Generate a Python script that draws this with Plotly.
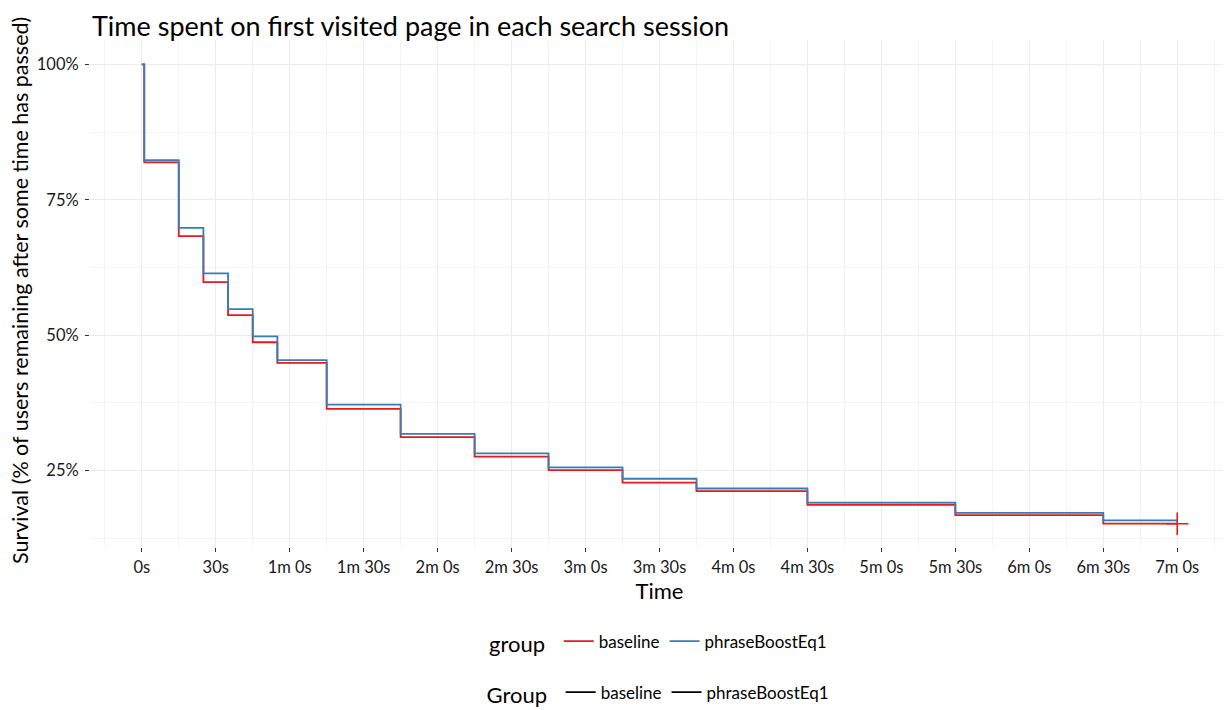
import plotly.graph_objects as go

# Data
time_s = [0, 1, 15, 25, 35, 45, 55, 75, 105, 135, 165, 195, 225, 270, 330, 390, 420]
baseline = [100, 81.9, 68.3, 59.8, 53.7, 48.7, 44.9, 36.4, 31.2, 27.6, 25.1, 22.8, 21.2, 18.7, 16.8, 15.2, 15.2]
phrase = [100, 82.3, 69.8, 61.4, 54.8, 49.8, 45.4, 37.2, 31.8, 28.2, 25.6, 23.5, 21.7, 19.1, 17.2, 15.8, 15.8]
x_tickvals = [0, 30, 60, 90, 120, 150, 180, 210, 240, 270, 300, 330, 360, 390, 420]
x_ticktext = ["0s", "30s", "1m 0s", "1m 30s", "2m 0s", "2m 30s", "3m 0s", "3m 30s",
              "4m 0s", "4m 30s", "5m 0s", "5m 30s", "6m 0s", "6m 30s", "7m 0s"]
y_tickvals = [25, 50, 75, 100]
y_ticktext = ["25%", "50%", "75%", "100%"]
groups = ["baseline", "phraseBoostEq1"]
colors = ["#E41A1C", "#377EB8"]

FONT = "Lato"
W, H = 1231, 710
ML, MR, MT, MB = 82, 10, 32, 171
PW, PH = W - ML - MR, H - MT - MB

fig = go.Figure()

series = [baseline, phrase]
for name, col, ys in zip(groups, colors, series):
    fig.add_trace(go.Scatter(x=time_s, y=ys, mode="lines", line=dict(color=col, width=1.8, shape="hv"),
                             name=name, legend="legend", showlegend=True))
# censor mark at the end of the baseline curve (the visible "+" in the reference)
fig.add_trace(go.Scatter(x=[time_s[-1]], y=[baseline[-1]], mode="markers",
                         marker=dict(symbol="cross-thin", size=16, color=colors[0],
                                     line=dict(color=colors[0], width=1.6)),
                         showlegend=False, hoverinfo="skip"))
# second (black) legend
for name in groups:
    fig.add_trace(go.Scatter(x=[None], y=[None], mode="lines", line=dict(color="black", width=1.8),
                             name=name, legend="legend2", showlegend=True))

fig.update_layout(
    width=W, height=H,
    margin=dict(l=ML, r=MR, t=MT, b=MB, autoexpand=False),
    paper_bgcolor="white", plot_bgcolor="white",
    font=dict(family=FONT, color="#1a1a1a", size=15),
    title=dict(text="Time spent on first visited page in each search session",
               x=84 / W, xanchor="left", y=1 - 9 / H, yanchor="top", pad=dict(t=0, b=0),
               font=dict(size=27, color="black", family=FONT)),
    legend=dict(orientation="h", x=0.5, xanchor="center", xref="paper",
                yref="container", y=1 - 635 / H, yanchor="middle",
                title=dict(text="group ", font=dict(size=22, color="black"), side="left"),
                font=dict(size=17, color="black"), itemwidth=30, bgcolor="rgba(0,0,0,0)"),
    legend2=dict(orientation="h", x=0.5, xanchor="center", xref="paper",
                 yref="container", y=1 - 686 / H, yanchor="middle",
                 title=dict(text="Group ", font=dict(size=22, color="black"), side="left"),
                 font=dict(size=17, color="black"), itemwidth=30, bgcolor="rgba(0,0,0,0)"),
    annotations=[dict(text="Survival (% of users remaining after some time has passed)",
                      textangle=-90, xref="paper", yref="paper",
                      x=(12 - ML) / PW, y=(MT + PH - 283) / PH,
                      xanchor="center", yanchor="middle", showarrow=False,
                      font=dict(size=21.5, color="black", family=FONT))],
)

fig.update_xaxes(
    range=[-21, 441], tickvals=x_tickvals, ticktext=x_ticktext, automargin=False,
    showgrid=True, gridcolor="#EBEBEB", gridwidth=1,
    minor=dict(tick0=15, dtick=30, showgrid=True, gridcolor="#F4F4F4", gridwidth=1),
    ticks="outside", ticklen=4, tickcolor="#333333", tickwidth=1, ticklabelstandoff=1,
    zeroline=False, showline=False,
    tickfont=dict(size=16.5, color="#1a1a1a"),
    title=dict(text="Time", font=dict(size=22, color="black"), standoff=7),
)
fig.update_yaxes(
    range=[10.9, 104.5], tickvals=y_tickvals, ticktext=y_ticktext, automargin=False,
    showgrid=True, gridcolor="#EBEBEB", gridwidth=1,
    minor=dict(tick0=12.5, dtick=25, showgrid=True, gridcolor="#F4F4F4", gridwidth=1),
    ticks="outside", ticklen=4, tickcolor="#333333", tickwidth=1, ticklabelstandoff=3,
    zeroline=False, showline=False,
    tickfont=dict(size=16.5, color="#1a1a1a"),
)

fig.write_html("out.html")
